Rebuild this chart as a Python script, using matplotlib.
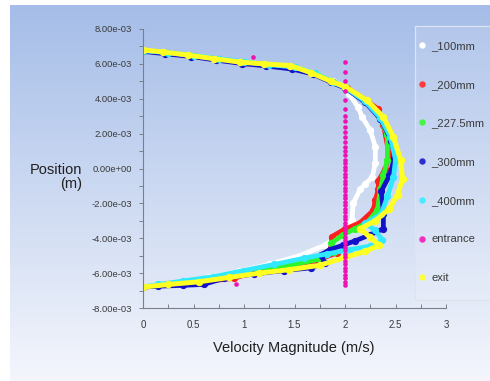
"""
Velocity magnitude profiles across the channel at several stations
(Fluent-style XY plot on a blue gradient background).
"""
import numpy as np
import matplotlib
matplotlib.use("Agg")
import matplotlib.pyplot as plt
from matplotlib.lines import Line2D
from matplotlib.patches import Rectangle
from matplotlib.ticker import MultipleLocator, FormatStrFormatter

plt.rcParams["font.family"] = ["Liberation Sans", "DejaVu Sans"]

# ---- data: velocity (m/s) vs position (mm) ----
LABELS = ["_100mm", "_200mm", "_227.5mm", "_300mm", "_400mm", "entrance", "exit"]
COLORS = ["#ffffff", "#ff1f1f", "#2cf52c", "#1212c8", "#30e8ff", "#ee12b4", "#ffff22"]

VEL_100 = [0.00, 0.25, 0.50, 0.75, 1.00, 1.25, 1.50, 1.70, 1.88, 2.00, 2.04, 2.13, 2.17,
           2.25, 2.30, 2.30, 2.27, 2.20, 2.15, 2.08, 2.07, 1.98, 1.80, 1.55, 1.25, 0.95,
           0.65, 0.35, 0.00]
POS_100 = [6.75, 6.62, 6.46, 6.27, 6.08, 5.93, 5.80, 5.45, 5.00, 4.70, 4.30, 3.50, 2.95,
           2.20, 1.25, 0.30, -0.50, -0.90, -1.20, -2.00, -2.95, -3.70, -4.40, -5.00, -5.50,
           -5.90, -6.25, -6.55, -6.80]

VEL_200 = [0.00, 0.25, 0.50, 0.75, 1.00, 1.25, 1.50, 1.70, 1.88, 2.02, 2.20, 2.33, 2.38,
           2.44, 2.40, 2.33, 2.33, 2.30, 2.28, 2.15, 1.99, 1.87, 1.86, 1.92, 1.70, 1.40,
           1.10, 0.90, 0.60, 0.30, 0.00]
POS_200 = [6.74, 6.60, 6.44, 6.26, 6.06, 5.92, 5.78, 5.42, 4.96, 4.62, 3.95, 3.40, 2.50,
           0.70, 0.00, -0.70, -1.20, -1.80, -2.40, -3.10, -3.50, -3.90, -4.55, -4.85, -5.30,
           -5.65, -5.95, -6.30, -6.50, -6.65, -6.80]

VEL_227 = [0.00, 0.25, 0.50, 0.75, 1.00, 1.25, 1.50, 1.70, 1.88, 2.00, 2.20, 2.34, 2.42,
           2.42, 2.38, 2.35, 2.32, 2.22, 2.10, 1.98, 1.86, 1.89, 1.75, 1.50, 1.20, 0.90,
           0.60, 0.30, 0.00]
POS_227 = [6.76, 6.62, 6.46, 6.27, 6.08, 5.93, 5.80, 5.45, 4.98, 4.66, 3.85, 3.00, 1.90,
           0.50, -0.40, -1.20, -2.40, -3.10, -3.45, -3.80, -4.30, -4.80, -5.20, -5.50,
           -5.80, -6.10, -6.40, -6.60, -6.80]

VEL_300 = [0.00, 0.22, 0.48, 0.72, 0.98, 1.22, 1.48, 1.68, 1.86, 2.00, 2.20, 2.35, 2.46,
           2.49, 2.44, 2.36, 2.38, 2.38, 2.25, 2.10, 1.98, 1.85, 1.76, 1.80, 1.66, 1.40,
           1.10, 0.80, 0.60, 0.40, 0.15, 0.00]
POS_300 = [6.72, 6.58, 6.42, 6.22, 6.02, 5.88, 5.70, 5.42, 4.95, 4.62, 3.80, 2.85, 1.60,
           0.60, -0.40, -1.30, -2.60, -3.45, -3.80, -4.15, -4.40, -4.65, -4.95, -5.40,
           -5.70, -5.85, -6.05, -6.30, -6.65, -6.70, -6.75, -6.80]

VEL_400 = [0.00, 0.25, 0.50, 0.75, 1.00, 1.25, 1.50, 1.70, 1.88, 2.00, 2.20, 2.35, 2.45,
           2.50, 2.48, 2.42, 2.36, 2.20, 2.30, 2.37, 2.25, 2.05, 1.82, 1.59, 1.30, 1.00,
           0.70, 0.40, 0.15, 0.00]
POS_400 = [6.75, 6.65, 6.48, 6.30, 6.12, 5.95, 5.82, 5.45, 4.95, 4.65, 3.85, 2.90, 1.80,
           0.50, -0.50, -1.60, -2.60, -3.15, -3.55, -4.10, -4.45, -4.65, -4.90, -5.15,
           -5.50, -5.85, -6.20, -6.45, -6.65, -6.80]

VEL_EXIT = [0.00, 0.20, 0.45, 0.70, 0.96, 1.20, 1.46, 1.66, 1.86, 2.00, 2.22, 2.38, 2.48,
            2.55, 2.57, 2.52, 2.44, 2.30, 2.15, 2.25, 2.34, 2.20, 2.00, 1.75, 1.45, 1.15,
            0.85, 0.55, 0.25, 0.00]
POS_EXIT = [6.80, 6.68, 6.50, 6.30, 6.10, 6.00, 5.90, 5.50, 5.00, 4.70, 3.90, 2.95, 1.80,
            0.50, -0.60, -1.50, -2.30, -3.00, -3.45, -3.95, -4.40, -4.75, -5.10, -5.55,
            -5.80, -6.00, -6.25, -6.50, -6.65, -6.80]

# entrance: uniform 2 m/s plug, plus two stray wall points
POS_ENT = [6.10, 5.55, 5.00, 4.45, 3.95, 3.40, 3.00, 2.70, 2.40, 2.10, 1.80, 1.50, 1.25,
           1.00, 0.75, 0.50, 0.30, 0.10, -0.10, -0.30, -0.50, -0.70, -0.90, -1.10, -1.30,
           -1.50, -1.70, -1.90, -2.10, -2.30, -2.50, -2.70, -2.90, -3.10, -3.30, -3.50,
           -3.70, -3.90, -4.10, -4.30, -4.50, -4.70, -4.90, -5.10, -5.30, -5.50, -5.70,
           -5.90, -6.10, -6.30, -6.50, -6.70, 6.40, -6.65]
VEL_ENT = [2.0] * 52 + [1.09, 0.92]

PROFILES = [(VEL_100, POS_100), (VEL_200, POS_200), (VEL_227, POS_227),
            (VEL_300, POS_300), (VEL_400, POS_400)]

W, H = 490, 381
fig = plt.figure(figsize=(W / 100, H / 100), dpi=100, facecolor="white")

# gradient backdrop (white strip on left / top like the screenshot)
bg = fig.add_axes([10 / W, 0, 1 - 10 / W, 1 - 5 / H], zorder=-5)
top = np.array([165, 189, 232]) / 255
bot = np.array([244, 246, 252]) / 255
t = np.linspace(0, 1, 256)[:, None]
grad = (top[None, :] * (1 - t) + bot[None, :] * t)[:, None, :]
bg.imshow(grad, aspect="auto", extent=[0, 1, 0, 1], origin="upper")
bg.set_axis_off()

ax = fig.add_axes([143 / W, 73 / H, 303 / W, 279 / H])
ax.patch.set_alpha(0)

for (v, p), c in zip(PROFILES, COLORS[:5]):
    ax.plot(v, np.array(p) * 1e-3, color=c, lw=3.4, marker="o", ms=4.2,
            solid_capstyle="round", solid_joinstyle="round")
ax.plot(VEL_EXIT, np.array(POS_EXIT) * 1e-3, color=COLORS[6], lw=3.6, marker="o",
        ms=4.4, solid_capstyle="round", solid_joinstyle="round")
ax.scatter(VEL_ENT, np.array(POS_ENT) * 1e-3, s=11, color=COLORS[5], lw=0, zorder=5)

ax.set_xlim(0, 3)
ax.set_ylim(-8e-3, 8e-3)
ax.xaxis.set_major_locator(MultipleLocator(0.5))
ax.xaxis.set_minor_locator(MultipleLocator(0.25))
ax.xaxis.set_major_formatter(FormatStrFormatter("%g"))
ax.yaxis.set_major_locator(MultipleLocator(2e-3))
ax.yaxis.set_minor_locator(MultipleLocator(1e-3))
ax.yaxis.set_major_formatter(FormatStrFormatter("%.2e"))

for s in ("top", "right"):
    ax.spines[s].set_visible(False)
for s in ("left", "bottom"):
    ax.spines[s].set_color("#7a7f88")
    ax.spines[s].set_linewidth(0.8)

ax.tick_params(axis="y", which="both", direction="out", length=3, width=0.7,
               color="#7a7f88", labelsize=6.8, labelcolor="#3a3a3a", pad=5)
ax.tick_params(axis="x", which="both", direction="in", length=3, width=0.7,
               color="#7a7f88", labelsize=7, labelcolor="#3a3a3a", pad=9)

fig.text(82 / W, 1 - 170 / H, "Position", ha="right", va="center", fontsize=10.5,
         color="#202020")
fig.text(82 / W, 1 - 184 / H, "(m)", ha="right", va="center", fontsize=10.5,
         color="#202020")
fig.text(294 / W, 1 - 348 / H, "Velocity Magnitude (m/s)", ha="center", va="center",
         fontsize=10.5, color="#202020")

# legend panel
fig.patches.append(Rectangle((415 / W, 81 / H), 100 / W, 274 / H,
                             transform=fig.transFigure, facecolor=(1, 1, 1, 0.12),
                             edgecolor="#dde3ef", lw=0.9, zorder=3))
handles = [Line2D([], [], ls="", marker="o", ms=3.6, color=c) for c in COLORS]
ax.legend(handles, LABELS, loc="upper left", bbox_to_anchor=(419 / W, 1 - 41 / H),
          bbox_transform=fig.transFigure, frameon=False, fontsize=8.1,
          handlelength=0.5, handletextpad=0.6, labelspacing=2.55, borderpad=0,
          borderaxespad=0, labelcolor="#202020")

fig.savefig("out.png", dpi=100)
